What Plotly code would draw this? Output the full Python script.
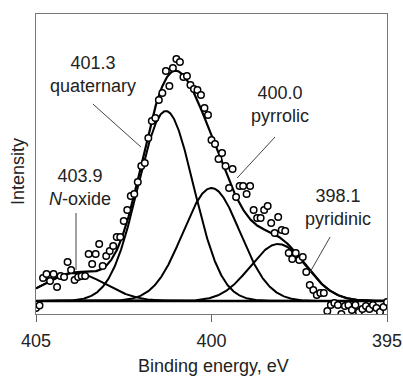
import numpy as np
import plotly.graph_objects as go

# N 1s spectrum: measured points (binding energy grid, 0.1 eV steps)
energy = np.round(np.arange(405.0, 394.95, -0.1), 1)
intensity = [
    -7, -4.5, 23, 27, 20, 27, 14, 25, 24, 39,
    31, 21, 24, 25, 25, 47, 37, 47, 57, 35,
    45, 50, 55, 64, 64, 80, 91, 105, 107, 119,
    135, 138, 163, 180, 183, 201, 208, 230, 215, 233,
    242, 239, 224, 225, 216, 212, 211, 206, 193, 186,
    161, 157, 142, 148, 135, 113, 132, 104, 115, 115,
    107, 115, 91, 83, 83, 91, 95, 78, 68, 84,
    71, 70, 48, 42, 48, 41, 44, 29, 16, 11,
    6, 8, 8, -10, -4, -2, -4, -13, -5, -4,
    -9, -4, -11, -8, -5, -8, -4, -7, -11, -6,
    -1,
]

# Fitted components
peak_names = ["N-oxide", "quaternary", "pyrrolic", "pyridinic"]
peak_centers = [403.9, 401.3, 400.0, 398.1]
peak_heights = [28, 190, 113, 57]
peak_fwhm = [2.05, 1.86, 1.92, 1.88]

# Peak labels (text) and their leader lines
label_text = ["403.9<br><i>N</i>-oxide", "401.3<br>quaternary",
              "400.0<br>pyrrolic", "398.1<br>pyridinic"]
label_pos = [(403.75, 114), (403.38, 227), (398.05, 197), (396.4, 94)]
leader_lines = [((403.86, 88), (403.86, 31)),
                ((403.38, 197), (402.01, 154)),
                ((398.19, 164), (399.27, 123)),
                ((396.62, 64), (397.19, 29))]

x_range = [405, 395]
y_range = [-13, 287]
x_ticks = [405, 400, 395]
x_title = "Binding energy, eV"
y_title = "Intensity"

FONT = "Liberation Sans, Arial, sans-serif"
TEXT = "#222222"

# plot area in pixels
W, H = 403, 378
ML, MR, MT, MB = 36, 16, 14, 64
PW, PH = W - ML - MR, H - MT - MB

xf = np.linspace(405, 395, 801)


def gauss(x, c, h, w):
    return h * np.exp(-4 * np.log(2) * (x - c) ** 2 / w ** 2)


components = [gauss(xf, c, h, w) for c, h, w in zip(peak_centers, peak_heights, peak_fwhm)]
envelope = np.sum(components, axis=0)

fig = go.Figure()

# baseline
fig.add_trace(go.Scatter(x=x_range, y=[0, 0], mode="lines",
                         line=dict(color="black", width=2.6), hoverinfo="skip"))
for comp in components:
    fig.add_trace(go.Scatter(x=xf, y=comp, mode="lines",
                             line=dict(color="black", width=2), hoverinfo="skip"))
fig.add_trace(go.Scatter(x=xf, y=envelope, mode="lines",
                         line=dict(color="black", width=2.2), hoverinfo="skip"))
fig.add_trace(go.Scatter(x=energy, y=intensity, mode="markers",
                         marker=dict(symbol="circle", size=6.5, color="white",
                                     line=dict(color="black", width=1.5))))

for (x0, y0), (x1, y1) in leader_lines:
    fig.add_shape(type="line", x0=x0, y0=y0, x1=x1, y1=y1, xref="x", yref="y",
                  line=dict(color="#444444", width=1))

for txt, (lx, ly) in zip(label_text, label_pos):
    fig.add_annotation(x=lx, y=ly, xref="x", yref="y", text=txt, showarrow=False,
                       font=dict(family=FONT, size=18, color=TEXT),
                       xanchor="center", yanchor="middle", align="center")

# axis titles, positioned by pixel
fig.add_annotation(x=(18 - ML) / PW, y=(MT + PH - 172) / PH, xref="paper", yref="paper",
                   text=y_title, showarrow=False, textangle=-90,
                   xanchor="center", yanchor="middle",
                   font=dict(family=FONT, size=18, color=TEXT))
fig.add_annotation(x=(213 - ML) / PW, y=(MT + PH - 366) / PH, xref="paper", yref="paper",
                   text=x_title, showarrow=False,
                   xanchor="center", yanchor="middle",
                   font=dict(family=FONT, size=18, color=TEXT))

fig.update_layout(
    width=W, height=H,
    margin=dict(l=ML, r=MR, t=MT, b=MB, autoexpand=False),
    paper_bgcolor="white", plot_bgcolor="white",
    showlegend=False,
    font=dict(family=FONT, size=18, color=TEXT),
)

fig.update_xaxes(range=x_range, tickvals=x_ticks, ticktext=[str(t) for t in x_ticks],
                 ticks="outside", ticklen=7, tickcolor="#666666", tickwidth=1,
                 ticklabelstandoff=3,
                 showline=True, linecolor="#777777", linewidth=1, mirror=True,
                 showgrid=False, zeroline=False, automargin=False,
                 tickfont=dict(family=FONT, size=18, color=TEXT))
fig.update_yaxes(range=y_range, showticklabels=False, ticks="",
                 showline=True, linecolor="#777777", linewidth=1, mirror=True,
                 showgrid=False, zeroline=False, automargin=False)

fig.write_html("out.html")
